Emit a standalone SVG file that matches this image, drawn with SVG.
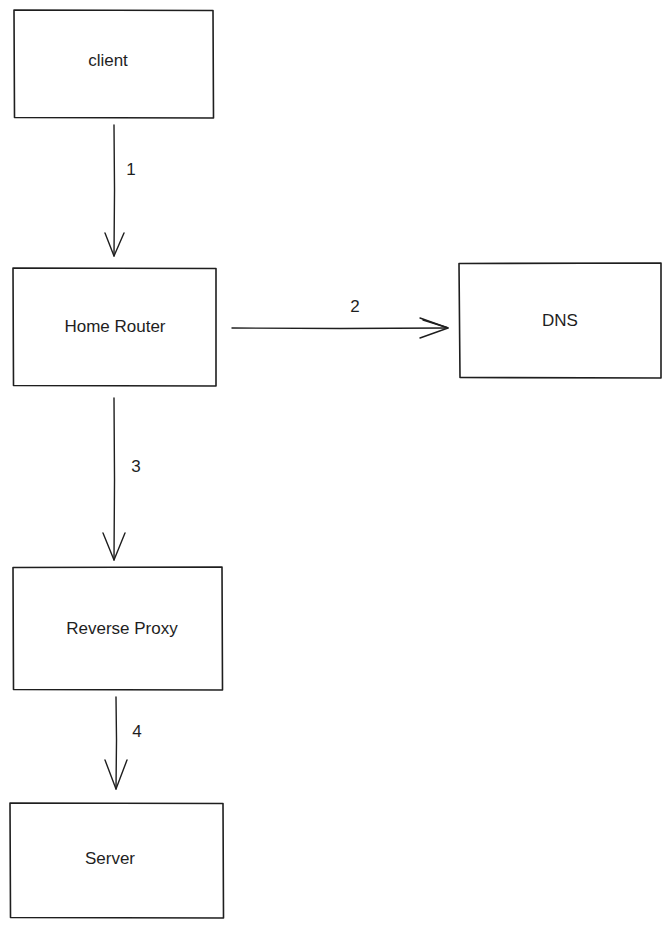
<svg xmlns="http://www.w3.org/2000/svg" width="670" height="928" viewBox="0 0 670 928">
<style>
.box{fill:#fff;stroke:#1e1e1e;stroke-width:1.6;stroke-linecap:round;stroke-linejoin:round}
.ln{fill:none;stroke:#1e1e1e;stroke-width:1.4;stroke-linecap:round;stroke-linejoin:round}
.t{font-family:"Liberation Sans",Arial,sans-serif;font-size:17px;fill:#1e1e1e;text-anchor:middle;dominant-baseline:central}
</style>
<rect width="670" height="928" fill="#fff"/>
<g id="connectors">
  <g id="e1"><path class="ln" d="M114 125 L114.5 190 L114 256"/><path class="ln" d="M105 233 L114 256 L124 233"/><text class="t" x="131" y="169">1</text></g>
  <g id="e2"><path class="ln" d="M232 328 L340 328.5 L448 328"/><path class="ln" d="M420 318 L448 328 L420 338"/><path class="ln" d="M423 320 L447 327.5"/><text class="t" x="355" y="306">2</text></g>
  <g id="e3"><path class="ln" d="M114 398 L114.5 480 L114 560"/><path class="ln" d="M103 533 L114 560 L125 533"/><text class="t" x="136" y="466">3</text></g>
  <g id="e4"><path class="ln" d="M116 697 L116.5 740 L116 789"/><path class="ln" d="M105 760 L116 789 L127 760"/><text class="t" x="137" y="731">4</text></g>
</g>
<g id="client"><path class="box" d="M14 10 L213 10.5 L213.5 118 L14.5 117.5 Z"/><text class="t" x="108" y="60">client</text></g>
<g id="home-router"><path class="box" d="M13 268 L216 268.5 L216 386 L13.5 385.5 Z"/><text class="t" x="115" y="326">Home Router</text></g>
<g id="dns"><path class="box" d="M459 263.5 L661 263 L661 378 L460 377.5 Z"/><text class="t" x="560" y="320">DNS</text></g>
<g id="reverse-proxy"><path class="box" d="M13 567.5 L222 567 L222.5 690 L13.5 689.5 Z"/><text class="t" x="122" y="628">Reverse Proxy</text></g>
<g id="server"><path class="box" d="M10 803 L223 803.5 L223.5 918 L10.5 917.5 Z"/><text class="t" x="110" y="858">Server</text></g>
</svg>
